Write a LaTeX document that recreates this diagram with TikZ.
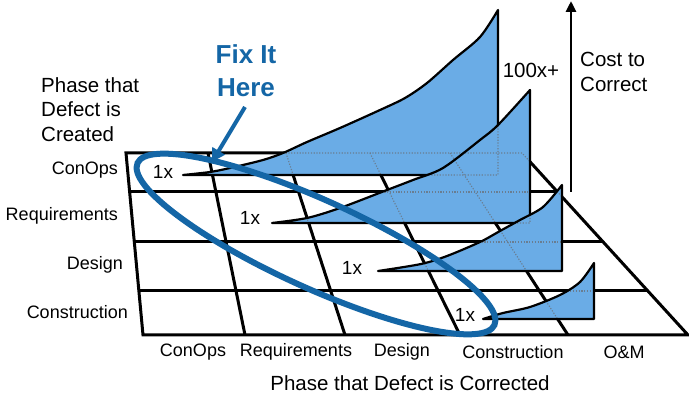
\documentclass[tikz,border=0pt]{standalone}
\usepackage{fontspec}
\setmainfont{Liberation Sans}
\usetikzlibrary{arrows.meta,calc}
\definecolor{wedgefill}{RGB}{106,172,230}
\definecolor{hiblue}{RGB}{20,102,166}
\definecolor{dotgray}{RGB}{105,125,145}
\newcommand\gridpaths[1]{%
  \draw[#1] (126,153) -- (522,153) -- (688,335) -- (143,335) -- cycle;
  \draw[#1] (129.6,192) -- (557.6,192);
  \draw[#1] (134.3,242) -- (603.2,242);
  \draw[#1] (138.9,291) -- (647.9,291);
  \draw[#1] (208,153) -- (245,335);
  \draw[#1] (286,153) -- (345,335);
  \draw[#1] (370,153) -- (460,335);
  \draw[#1] (450,153) -- (568,335);
}
\def\wedgeA{plot[smooth,tension=0.5] coordinates {(183,175) (210,172) (230,168) (263,160) (283,153) (307,142) (340,128) (380,110) (405,98) (427,83) (453,60) (480,37) (498,10)} -- (498,175) -- cycle}
\def\wedgeB{plot[smooth,tension=0.5] coordinates {(272,223) (307,218) (340,208) (387,190) (413,180) (443,168) (480,140) (498,125) (530,90)} -- (530,223) -- cycle}
\def\wedgeC{plot[smooth,tension=0.5] coordinates {(378,271) (421,264) (447,256) (480,242) (500,231) (520,220) (543,207) (562,185)} -- (562,271) -- cycle}
\def\wedgeD{plot[smooth,tension=0.5] coordinates {(483,319) (503,313) (530,307) (560,295) (580,282) (594,263)} -- (594,319) -- cycle}
\begin{document}
\begin{tikzpicture}[x=1pt,y=-1pt,
  gridline/.style={line width=3pt,line join=miter},
  dotline/.style={dotgray,line width=1.1pt,dash pattern=on 1.2pt off 1.6pt},
  wedgeline/.style={black,line width=2.2pt,line join=round},
  lbl/.style={inner sep=0pt,font=\fontsize{18}{22}\selectfont},
  biglbl/.style={inner sep=0pt,align=left,font=\fontsize{20.5}{24.5}\selectfont},
  onex/.style={inner sep=0pt,font=\fontsize{19}{22}\selectfont}]
\useasboundingbox[fill=white] (0,0) rectangle (689,398);
% grid
\gridpaths{gridline}
% wedge 1
\fill[wedgefill] \wedgeA;
\begin{scope}\clip \wedgeA; \gridpaths{dotline}\end{scope}
\draw[wedgeline] \wedgeA;
% wedge 2
\fill[wedgefill] \wedgeB;
\begin{scope}\clip \wedgeB; \gridpaths{dotline}\draw[dotline] \wedgeA;\end{scope}
\draw[wedgeline] \wedgeB;
% wedge 3
\fill[wedgefill] \wedgeC;
\begin{scope}\clip \wedgeC; \gridpaths{dotline}\draw[dotline] \wedgeA;\draw[dotline] \wedgeB;\end{scope}
\draw[wedgeline] \wedgeC;
% wedge 4
\fill[wedgefill] \wedgeD;
\begin{scope}\clip \wedgeD; \gridpaths{dotline}\draw[dotline] \wedgeC;\end{scope}
\draw[wedgeline] \wedgeD;
% ellipse
\draw[hiblue,line width=6pt,rotate around={-24.4:(316,244)}] (316,244) ellipse [x radius=196pt,y radius=44pt];
% 1x labels
\node[onex] (x1) at (163,172) {1x};
\node[onex] (x2) at (250,218) {1x};
\node[onex] (x3) at (352,268) {1x};
\node[onex] (x4) at (465,315) {1x};
% row labels
\node[lbl,anchor=east] (rc) at (118,170) {ConOps};
\node[lbl,anchor=east] (rr) at (118,216) {Requirements};
\node[lbl,anchor=east] (rd) at (123,265) {Design};
\node[lbl,anchor=east] (rk) at (128,312) {Construction};
% column labels
\node[lbl] (cc) at (193,352) {ConOps};
\node[lbl] (cr) at (296,352) {Requirements};
\node[lbl] (cd) at (402,352) {Design};
\node[lbl] (ck) at (513,352) {Construction};
\node[lbl] (co) at (624,352) {O\&M};
\node[biglbl] (corr) at (410,383) {Phase that Defect is Corrected};
\node[biglbl,anchor=north west] (crea) at (41,77) {Phase that\\Defect is\\Created};
\node[biglbl] (hund) at (531,70) {100x+};
\node[biglbl,anchor=north west] (cost) at (580,52) {Cost to\\Correct};
\node[inner sep=0pt,align=center,text=hiblue,font=\bfseries\fontsize{26}{33}\selectfont] (fix) at (246,71) {Fix It\\Here};
% arrows
\coordinate (fixtail) at (245,107);
\coordinate (fixtip) at (212,162);
\draw[hiblue,line width=4pt,-{Triangle[length=13pt,width=14pt]}] (fixtail) -- (fixtip);
\coordinate (costlo) at (571,192);
\coordinate (costhi) at (571,1);
\draw[black,line width=2.8pt,-{Triangle[length=11pt,width=10pt]}] (costlo) -- (costhi);
\end{tikzpicture}
\end{document}
